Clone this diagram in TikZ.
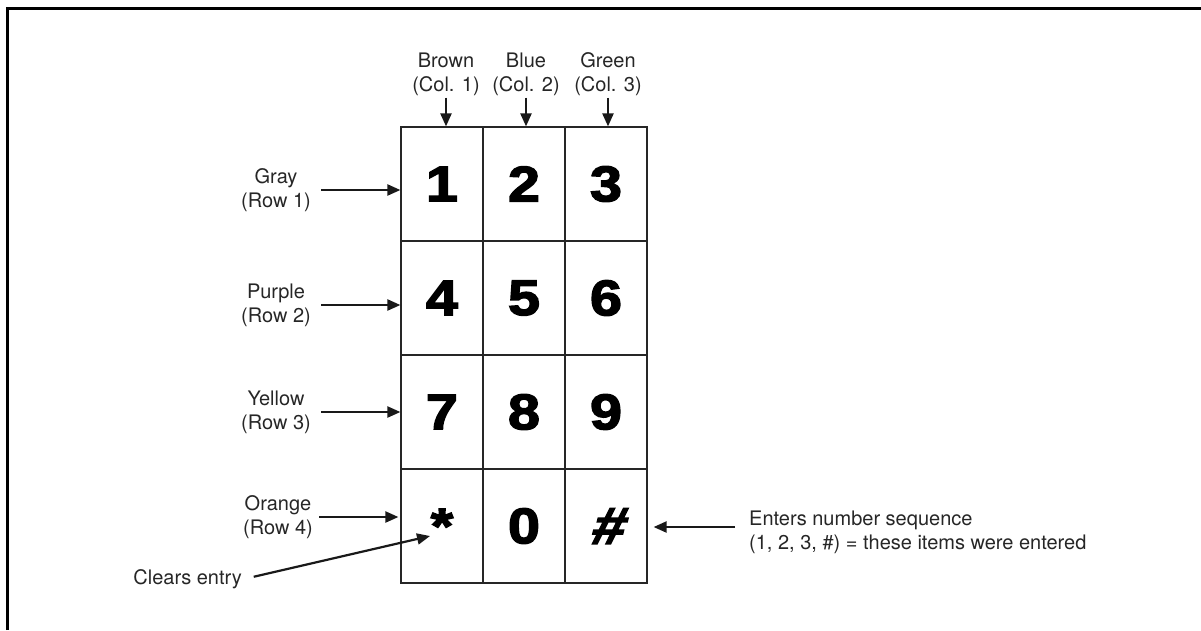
\documentclass[tikz,border=0pt]{standalone}
\usepackage{fontspec}
\setmainfont{TeX Gyre Heros}
\usetikzlibrary{arrows.meta}
\font\keyfont="Liberation Sans/B:embolden=3;extend=1.15" at 50pt
\font\hashfont="Liberation Sans/B:embolden=3;extend=1.15;slant=0.25" at 52pt
\begin{document}
\begin{tikzpicture}[x=1pt, y=-1pt,
  key/.style={draw=black!85, line width=1.2pt, minimum width=82pt, minimum height=114pt, inner sep=0pt, font=\keyfont},
  lbl/.style={align=center, inner sep=2pt, text=black!85, font=\fontsize{20}{24}\selectfont},
  pointer/.style={line width=2.2pt, draw=black!90, -{Triangle[length=13pt,width=11pt]}}]
\useasboundingbox (0,0) rectangle (1201,630);
\draw[line width=3pt] (7,630) -- (7,8) -- (1201,8);

\node[key] (k11) at (442,184) {1};
\node[key] (k12) at (524,184) {2};
\node[key] (k13) at (606,184) {3};
\node[key] (k21) at (442,298) {4};
\node[key] (k22) at (524,298) {5};
\node[key] (k23) at (606,298) {6};
\node[key] (k31) at (442,412) {7};
\node[key] (k32) at (524,412) {8};
\node[key] (k33) at (606,412) {9};
\node[key] (k41) at (442,526) {*};
\node[key] (k42) at (524,526) {0};
\node[key, font=\hashfont] (k43) at (606,526) {\#};

\node[lbl] (brown) at (446,74) {Brown\\(Col. 1)};
\node[lbl] (blue) at (526,74) {Blue\\(Col. 2)};
\node[lbl] (green) at (608,74) {Green\\(Col. 3)};
\draw[pointer] (brown.south) -- (brown.south |- k11.north);
\draw[pointer] (blue.south) -- (blue.south |- k12.north);
\draw[pointer] (green.south) -- (green.south |- k13.north);

\node[lbl] (gray) at (276,190) {Gray\\(Row 1)};
\node[lbl] (purple) at (276,305) {Purple\\(Row 2)};
\node[lbl] (yellow) at (276,412) {Yellow\\(Row 3)};
\node[lbl] (orange) at (278,517) {Orange\\(Row 4)};
\draw[pointer, shorten <=8pt] (gray.east) -- (gray.east -| k11.west);
\draw[pointer, shorten <=8pt] (purple.east) -- (purple.east -| k21.west);
\draw[pointer, shorten <=8pt] (yellow.east) -- (yellow.east -| k31.west);
\draw[pointer, shorten <=4pt, shorten >=2pt] (orange.east) -- (orange.east -| k41.west);

\node[lbl, anchor=east] (clears) at (244,579) {Clears entry};
\draw[pointer, shorten <=10pt] (clears.east) -- ([shift={(-12,10)}]k41.center);

\node[lbl, align=left, anchor=west] (enters) at (747,532) {Enters number sequence\\(1, 2, 3, \#) = these items were entered};
\draw[pointer, shorten <=12pt, shorten >=6pt] ([yshift=5pt]enters.west) -- ([yshift=5pt]enters.west -| k43.east);
\end{tikzpicture}
\end{document}
